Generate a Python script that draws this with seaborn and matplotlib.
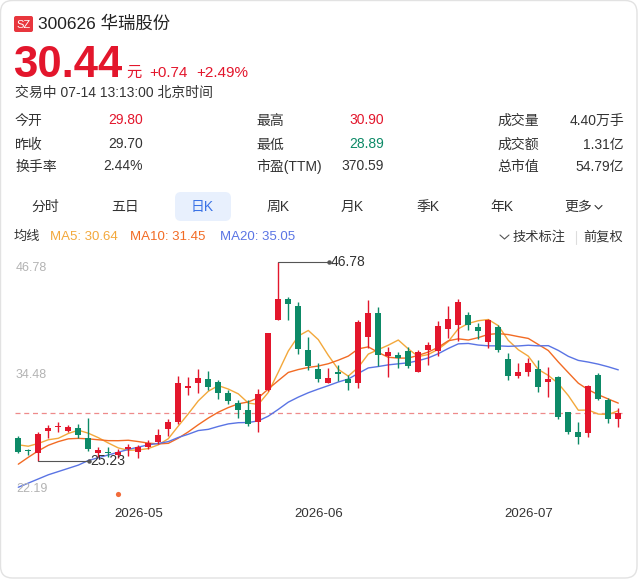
import numpy as np
import pandas as pd
import matplotlib
matplotlib.use("Agg")
import matplotlib.pyplot as plt
import matplotlib.transforms as mtransforms
from matplotlib.patches import FancyBboxPatch
import seaborn as sns

# ---------------- data ----------------
opens = [27.72, 26.35, 26.03, 28.40, 28.85, 28.45, 28.74, 27.69, 26.11, 26.21,
         25.90, 26.50, 26.14, 26.68, 27.26, 28.65, 29.39, 33.06, 33.62, 34.07,
         33.76, 32.57, 31.49, 30.73, 29.39, 32.90, 40.49, 42.82, 42.01, 37.20,
         35.15, 33.71, 34.85, 34.04, 33.62, 38.65, 41.22, 36.55, 36.69, 37.13,
         34.88, 37.24, 37.13, 39.55, 39.95, 41.03, 39.76, 38.14, 39.70, 36.23,
         34.42, 34.88, 35.14, 33.80, 34.34, 30.46, 28.38, 28.18, 34.52, 31.81,
         29.80]
highs = [27.91, 26.55, 28.31, 29.05, 29.39, 29.10, 29.21, 29.86, 26.72, 26.75,
         26.50, 27.04, 26.93, 27.42, 28.65, 29.72, 34.42, 34.36, 35.14, 35.00,
         33.95, 32.85, 31.81, 31.81, 32.98, 39.10, 46.78, 43.02, 42.41, 38.65,
         35.79, 35.25, 35.61, 34.52, 40.44, 42.66, 41.90, 37.56, 37.05, 37.56,
         37.20, 38.05, 40.41, 42.04, 42.73, 41.39, 40.16, 40.65, 39.98, 36.88,
         35.83, 36.34, 36.15, 35.36, 34.40, 30.50, 29.43, 33.40, 34.69, 32.03,
         30.90]
lows = [26.06, 25.85, 25.23, 27.69, 28.31, 28.29, 27.66, 26.25, 25.66, 25.68,
        25.52, 25.74, 25.49, 26.47, 26.99, 27.89, 29.26, 32.35, 32.60, 32.85,
        31.87, 31.41, 29.86, 29.00, 28.29, 32.80, 40.45, 40.49, 36.78, 35.07,
        33.80, 33.70, 33.82, 32.90, 33.11, 37.42, 35.45, 34.34, 35.25, 35.28,
        34.80, 35.61, 36.55, 38.50, 38.21, 39.40, 38.43, 37.45, 37.05, 34.01,
        34.20, 34.38, 32.71, 32.14, 29.73, 28.16, 27.04, 27.83, 31.81, 29.32,
        28.89]
closes = [26.21, 26.25, 28.12, 28.81, 28.90, 28.83, 28.02, 26.50, 26.39, 26.01,
          26.15, 26.75, 26.68, 27.15, 28.02, 29.46, 33.62, 33.33, 34.17, 33.22,
          32.54, 31.74, 30.73, 29.19, 32.46, 39.05, 42.75, 42.19, 37.29, 35.50,
          34.07, 34.23, 34.58, 33.62, 40.31, 41.22, 36.66, 36.98, 36.42, 35.50,
          37.05, 37.78, 39.84, 40.60, 42.41, 39.95, 39.26, 40.49, 37.27, 34.42,
          34.88, 35.79, 33.26, 34.06, 30.00, 28.38, 27.83, 33.33, 31.90, 29.75,
          30.44]

# moving-average values at the start of the window (read from the chart,
# they depend on days before the visible range)
ma5_head = [26.95, 26.80, 27.10, 27.50]
ma10_head = [24.85, 25.60, 26.30, 26.90, 27.30, 27.60, 27.65, 27.60, 27.50]
ma20_head = [22.35, 22.80, 23.25, 23.70, 24.05, 24.40, 24.75, 25.25, 25.55,
             25.85, 26.15, 26.45, 26.70, 26.95, 27.10, 27.30, 27.75, 28.10,
             28.50]

date_tick_idx = [12, 30, 51]
date_tick_labels = ["2026-05", "2026-06", "2026-07"]
y_tick_values = [46.78, 34.48, 22.19]
event_idx = [10]
last_price = 30.44

info_rows = [
    [("今开", "29.80", "up"), ("最高", "30.90", "up"), ("成交量", "4.40万手", None)],
    [("昨收", "29.70", None), ("最低", "28.89", "down"), ("成交额", "1.31亿", None)],
    [("换手率", "2.44%", None), ("市盈(TTM)", "370.59", None), ("总市值", "54.79亿", None)],
]
tabs = ["分时", "五日", "日K", "周K", "月K", "季K", "年K"]
legend_items = [("MA5: 30.64", "ma5"), ("MA10: 31.45", "ma10"), ("MA20: 35.05", "ma20")]

# ---------------- style ----------------
RED = "#e3162c"
GREEN = "#0d8a67"
C_MA = {"ma5": "#f3a83b", "ma10": "#f26b24", "ma20": "#5a74e4"}
TXT = "#333333"

sns.set_theme(style="white")
plt.rcParams["font.family"] = ["Liberation Sans", "Noto Sans CJK SC", "DejaVu Sans"]

W, H = 638, 580
fig = plt.figure(figsize=(W / 100, H / 100), dpi=100)
fig.patch.set_facecolor("white")

# UI layer in pixel coordinates
ui = fig.add_axes([0, 0, 1, 1], zorder=0)
ui.set_xlim(0, W)
ui.set_ylim(H, 0)
ui.axis("off")

ui.add_patch(FancyBboxPatch((0.5, 0.5), W - 1.5, H - 2.5,
                            boxstyle="round,pad=0,rounding_size=12",
                            fc="white", ec="#e2e2e2", lw=1.0))

# header
ui.add_patch(FancyBboxPatch((14, 16), 19, 16, boxstyle="round,pad=0,rounding_size=2",
                            fc="#e8363d", ec="none"))
ui.text(23.5, 24.5, "SZ", color="white", fontsize=8, ha="center", va="center")
ui.text(38, 24, "300626 华瑞股份", color="#222222", fontsize=12.5, ha="left", va="center")
ui.text(13, 77, f"{last_price:.2f}", color=RED, fontsize=31.5, fontweight="bold",
        ha="left", va="baseline")
ui.text(126, 77, "元", color=RED, fontsize=11, ha="left", va="baseline")
ui.text(149, 77, "+0.74", color=RED, fontsize=11, ha="left", va="baseline")
ui.text(196, 77, "+2.49%", color=RED, fontsize=11, ha="left", va="baseline")
ui.text(15, 93, "交易中 07-14 13:13:00 北京时间", color=TXT, fontsize=10,
        ha="left", va="center")

# info table
row_y = [120.5, 144.5, 166.5]
col_label_x = [15, 256, 497]
col_value_x = [143, 384, 624]
for r, row in enumerate(info_rows):
    for cidx, (lab, val, kind) in enumerate(row):
        ui.text(col_label_x[cidx], row_y[r], lab, color=TXT, fontsize=10,
                ha="left", va="center")
        col = RED if kind == "up" else (GREEN if kind == "down" else TXT)
        ui.text(col_value_x[cidx], row_y[r], val, color=col, fontsize=10,
                ha="right", va="center")

# tabs
tab_x = [45, 125, 202, 278, 352, 428, 502]
ui.add_patch(FancyBboxPatch((175, 192), 56, 29, boxstyle="round,pad=0,rounding_size=6",
                            fc="#e8f0fd", ec="none"))
for tx, t in zip(tab_x, tabs):
    ui.text(tx, 207, t, color=("#3a72e6" if t == "日K" else TXT), fontsize=10,
            ha="center", va="center")
ui.text(578, 207, "更多", color=TXT, fontsize=10, ha="center", va="center")
ui.plot([595, 598.5, 602], [205.5, 209, 205.5], color=TXT, lw=0.8)

# legend row
ui.text(14, 237, "均线", color=TXT, fontsize=9.5, ha="left", va="center")
for lx, (lab, key) in zip([50, 130, 220], legend_items):
    ui.text(lx, 237, lab, color=C_MA[key], fontsize=9.5, ha="left", va="center")
ui.plot([500, 504.5, 509], [235, 239, 235], color="#555555", lw=0.8)
ui.text(513, 237, "技术标注", color=TXT, fontsize=9.5, ha="left", va="center")
ui.plot([576, 576], [231, 244], color="#dddddd", lw=0.8)
ui.text(623, 237, "前复权", color=TXT, fontsize=9.5, ha="right", va="center")

# ---------------- chart ----------------
def vy(py):
    return 46.78 - (py - 262) / 9.22

top_px, bot_px = 255, 500
ax = fig.add_axes([0, 1 - bot_px / H, 1, (bot_px - top_px) / H], zorder=1)
ax.patch.set_alpha(0)
ax.set_xlim((0 - 18.3) / 10, (W - 18.3) / 10)
ax.set_ylim(vy(bot_px), vy(top_px))
ax.axis("off")

o = np.array(opens); h = np.array(highs); l = np.array(lows); c = np.array(closes)
idx = np.arange(len(c))

cs = pd.Series(c)
ma5 = cs.rolling(5).mean().to_numpy(); ma5[:len(ma5_head)] = ma5_head
ma10 = cs.rolling(10).mean().to_numpy(); ma10[:len(ma10_head)] = ma10_head
ma20 = cs.rolling(20).mean().to_numpy(); ma20[:len(ma20_head)] = ma20_head

df_ma = pd.concat([
    pd.DataFrame({"idx": idx, "value": ma5, "line": "ma5"}),
    pd.DataFrame({"idx": idx, "value": ma10, "line": "ma10"}),
    pd.DataFrame({"idx": idx, "value": ma20, "line": "ma20"}),
])
sns.lineplot(data=df_ma, x="idx", y="value", hue="line", palette=C_MA,
             estimator=None, sort=False, linewidth=1.0, legend=False, ax=ax, zorder=2)

# current price dashed line
ax.axhline(last_price, xmin=15 / W, xmax=622 / W, color="#ee8a8a", lw=0.9,
           ls=(0, (4, 3)), zorder=1)

up = c >= o
colors = np.where(up, RED, GREEN)
ax.vlines(idx, l, h, colors=colors, lw=1.0, zorder=3)
ax.bar(idx, np.maximum(np.abs(c - o), 0.12), bottom=np.minimum(o, c), width=0.64,
       color=colors, linewidth=0, zorder=4)

# max / min annotations
hi_i = int(np.argmax(h)); lo_i = int(np.argmin(l))
for i0, val in [(hi_i, h[hi_i]), (lo_i, l[lo_i])]:
    ax.plot([i0, i0 + 5.05], [val, val], color="#555555", lw=0.8, zorder=5)
    ax.plot([i0 + 5.05], [val], marker="o", ms=2.2, color="#555555", zorder=5)
    ax.text(i0 + 5.2, val, f"{val:.2f}", color=TXT, fontsize=10, ha="left",
            va="center", zorder=6)

# event marker
sns.scatterplot(x=event_idx, y=[vy(494)] * len(event_idx), color="#f26b3a", s=14,
                linewidth=0, ax=ax, zorder=5)

# y labels
blend_y = mtransforms.blended_transform_factory(fig.transFigure, ax.transData)
for k, v in enumerate(y_tick_values):
    ax.text(16 / W, v, f"{v:.2f}", transform=blend_y, color="#b3b3b3", fontsize=9,
            ha="left", va=("top" if k == 0 else "center"), zorder=6)

# date labels
blend_x = mtransforms.blended_transform_factory(ax.transData, fig.transFigure)
for xi, lab in zip(date_tick_idx, date_tick_labels):
    ax.text(xi, 1 - 514 / H, lab, transform=blend_x, color=TXT, fontsize=9.5,
            ha="center", va="center")

fig.savefig("out.png", dpi=100, facecolor="white")
